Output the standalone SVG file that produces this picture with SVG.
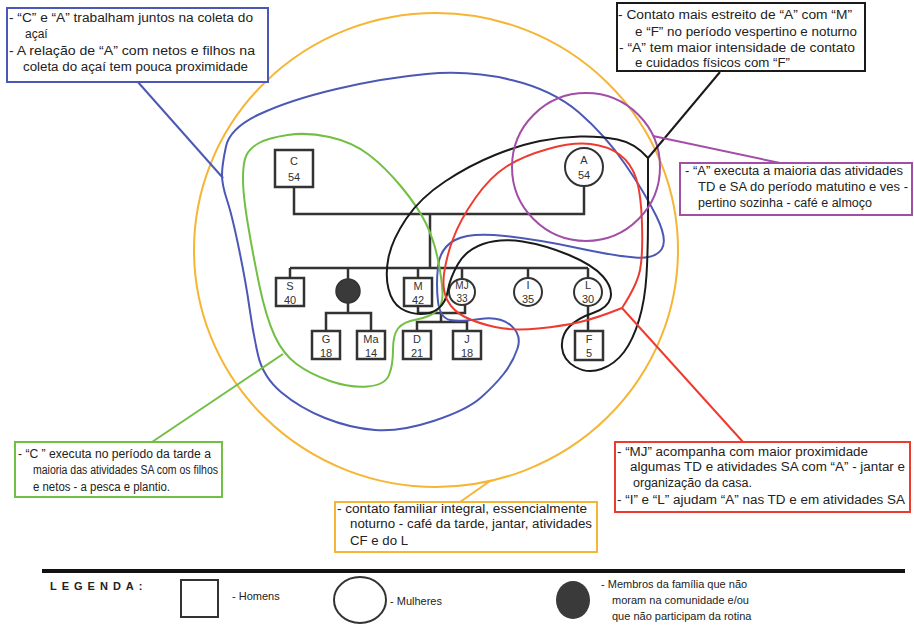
<svg xmlns="http://www.w3.org/2000/svg" width="914" height="628" viewBox="0 0 914 628">
<style>
  .t { font-family: "Liberation Sans", Arial, sans-serif; font-size: 12px; fill: #222; }
  .lbl { font-family: "Liberation Sans", Arial, sans-serif; font-size: 11px; fill: #333; text-anchor: middle; }
  .lg { font-family: "Liberation Sans", Arial, sans-serif; font-size: 11px; fill: #222; }
  .sq { fill: #fff; stroke: #333; stroke-width: 2.5; }
  .ci { fill: #fff; stroke: #333; stroke-width: 2; }
  .gl { fill: none; stroke: #333; stroke-width: 2.5; }
  .enc { fill: none; stroke-width: 2; }
  .blue { stroke: #4b58b5; }
  .green { stroke: #72bf44; }
  .red { stroke: #ee3b2f; }
  .mag { stroke: #a24ea6; }
  .blk { stroke: #1a1a1a; }
  .yel { stroke: #f6b534; }
  .box { fill: #fff; stroke-width: 2; }
</style>
<rect width="914" height="628" fill="#fff"/>

<g id="genogram-lines">
  <polyline class="gl" points="294,187 294,214 584,214 584,186"/>
  <line class="gl" x1="430" y1="214" x2="430" y2="268"/>
  <line class="gl" x1="290" y1="268" x2="588" y2="268"/>
  <line class="gl" x1="290" y1="268" x2="290" y2="278"/>
  <line class="gl" x1="348" y1="268" x2="348" y2="279"/>
  <line class="gl" x1="418" y1="268" x2="418" y2="278"/>
  <line class="gl" x1="462" y1="268" x2="462" y2="279"/>
  <line class="gl" x1="528" y1="268" x2="528" y2="278"/>
  <line class="gl" x1="588" y1="268" x2="588" y2="278"/>
  <polyline class="gl" points="348,303 348,313"/>
  <polyline class="gl" points="326,331 326,313 371,313 371,331"/>
  <polyline class="gl" points="418,306 418,313 465,313 465,305"/>
  <line class="gl" x1="441" y1="313" x2="441" y2="322"/>
  <polyline class="gl" points="417,331 417,322 467,322 467,331"/>
  <line class="gl" x1="588" y1="306" x2="588" y2="331"/>
</g>

<g id="node-C"><rect class="sq" x="275" y="150" width="38" height="37"/><text class="lbl" x="294" y="165">C</text><text class="lbl" x="294" y="181">54</text></g>
<g id="node-A"><circle class="ci" cx="584" cy="167" r="19"/><text class="lbl" x="584" y="164">A</text><text class="lbl" x="584" y="179">54</text></g>
<g id="node-S"><rect class="sq" x="276" y="278" width="28" height="28"/><text class="lbl" x="290" y="290">S</text><text class="lbl" x="290" y="304">40</text></g>
<g id="node-X"><circle cx="348" cy="291" r="12" fill="#3a3a3a" stroke="#333" stroke-width="1.5"/></g>
<g id="node-M"><rect class="sq" x="404" y="278" width="28" height="28"/><text class="lbl" x="418" y="290">M</text><text class="lbl" x="418" y="304">42</text></g>
<g id="node-MJ"><circle class="ci" cx="462" cy="292" r="13"/><text class="lbl" x="462" y="289" style="font-size:10px">MJ</text><text class="lbl" x="462" y="302" style="font-size:10px">33</text></g>
<g id="node-I"><circle class="ci" cx="528" cy="292" r="14"/><text class="lbl" x="528" y="289">I</text><text class="lbl" x="528" y="303">35</text></g>
<g id="node-L"><circle class="ci" cx="588" cy="292" r="14"/><text class="lbl" x="588" y="289">L</text><text class="lbl" x="588" y="303">30</text></g>
<g id="node-G"><rect class="sq" x="312" y="331" width="28" height="28"/><text class="lbl" x="326" y="343">G</text><text class="lbl" x="326" y="357">18</text></g>
<g id="node-Ma"><rect class="sq" x="357" y="331" width="28" height="28"/><text class="lbl" x="371" y="343">Ma</text><text class="lbl" x="371" y="357">14</text></g>
<g id="node-D"><rect class="sq" x="403" y="331" width="28" height="28"/><text class="lbl" x="417" y="343">D</text><text class="lbl" x="417" y="357">21</text></g>
<g id="node-J"><rect class="sq" x="453" y="331" width="28" height="28"/><text class="lbl" x="467" y="343">J</text><text class="lbl" x="467" y="357">18</text></g>
<g id="node-F"><rect class="sq" x="575" y="331" width="28" height="29"/><text class="lbl" x="589" y="343">F</text><text class="lbl" x="589" y="357">5</text></g>

<g id="enclosures">
  <ellipse id="enc-yellow" class="enc yel" cx="436" cy="250" rx="242" ry="237"/>
  <path id="enc-blue" class="enc blue" d="M 226,146.5 Q 230,128 260,114 Q 290,100 336.5,89 Q 383,78 426.5,74 Q 470,70 511.5,80 Q 553,90 579,112.5 Q 605,135 625,164 Q 645,193 656.5,216.5 Q 668,240 661.5,249.5 Q 655,259 635,257.5 Q 615,256 577.5,248 Q 540,240 505,236 Q 470,232 455,240 Q 440,248 438,266.5 Q 436,285 438,301.5 Q 440,318 450,320 Q 460,322 480,319 Q 500,316 511,325.5 Q 522,335 517.5,348.5 Q 513,362 504,373.5 Q 495,385 481,397.5 Q 467,410 433.5,421 Q 400,432 375,430 Q 350,428 325,418 Q 300,408 281.5,392.5 Q 263,377 258,355 Q 253,333 249.5,308 Q 246,283 239,249 Q 232,215 227,200 Q 222,185 222,175 Q 222,165 226,146.5 Z"/>
  <path id="enc-green" class="enc green" d="M 259,143 Q 268,138 287.5,135 Q 307,132 329.5,137 Q 352,142 368.5,154.5 Q 385,167 401.5,187 Q 418,207 426,223.5 Q 434,240 438,260 Q 442,280 442.5,292.5 Q 443,305 436.5,311 Q 430,317 416.5,319.5 Q 403,322 398,328.5 Q 393,335 393,350 Q 393,365 389,375 Q 385,385 367.5,386.5 Q 350,388 330,381 Q 310,374 296.5,364 Q 283,354 274.5,335.5 Q 266,317 259.5,286 Q 253,255 248,225 Q 243,195 243,178.5 Q 243,162 246.5,155 Q 250,148 259,143 Z"/>
  <path id="enc-black" class="enc blk" d="M 648,158 Q 635,143 617.5,139.5 Q 600,136 580,136.5 Q 560,137 540,141 Q 520,145 495,155 Q 470,165 445,181.5 Q 420,198 406,219 Q 392,240 388.5,257.5 Q 385,275 388.5,289 Q 392,303 401,308.5 Q 410,314 421,314 Q 432,314 439,308 Q 446,302 448,290 Q 450,278 458,264 Q 466,250 483,244 Q 500,238 522.5,241.5 Q 545,245 569,255 Q 593,265 603,276.5 Q 613,288 610.5,298 Q 608,308 593,313 Q 578,318 569.5,326.5 Q 561,335 562,347.5 Q 563,360 575.5,367 Q 588,374 601.5,369 Q 615,364 624,352 Q 633,340 639,320 Q 645,300 646.5,275 Q 648,250 648,220 Q 648,190 648,158 Z"/>
  <path id="enc-red" class="enc red" d="M 622,308 Q 597,318 580,322 Q 563,326 538,328.5 Q 513,331 495,327 Q 477,323 465,317 Q 453,311 447.5,300.5 Q 442,290 444,274 Q 446,258 453,239 Q 460,220 475,198.5 Q 490,177 506.5,166.5 Q 523,156 548,149 Q 573,142 590.5,144 Q 608,146 619.5,154.5 Q 631,163 636,178 Q 641,193 642,224 Q 643,255 640,270 Q 637,285 622,308 Z"/>
  <circle id="enc-magenta" class="enc mag" cx="586" cy="167" r="74"/>
</g>

<g id="connectors" fill="none" stroke-width="2">
  <line class="blue" x1="137" y1="81" x2="223" y2="178"/>
  <line class="blk" x1="720" y1="72" x2="648" y2="158"/>
  <line class="mag" x1="653" y1="136" x2="780" y2="163"/>
  <line class="green" x1="152" y1="442" x2="283" y2="354"/>
  <line class="red" x1="622" y1="308" x2="743" y2="442"/>
  <line class="yel" x1="460" y1="502" x2="490" y2="481"/>
</g>

<g id="note-blue">
  <rect class="box blue" x="7" y="8" width="261" height="74"/>
  <text class="t" x="9" y="22" textLength="244" lengthAdjust="spacingAndGlyphs">- “C” e “A” trabalham juntos na coleta do</text>
  <text class="t" x="25" y="38">açaí</text>
  <text class="t" x="9" y="55" textLength="246" lengthAdjust="spacingAndGlyphs">- A relação de “A” com netos e filhos  na</text>
  <text class="t" x="23" y="71" textLength="225" lengthAdjust="spacingAndGlyphs">coleta do açaí tem pouca proximidade</text>
</g>
<g id="note-black">
  <rect class="box blk" x="617" y="3" width="248" height="68" stroke-width="2.5"/>
  <text class="t" x="618" y="19" textLength="234" lengthAdjust="spacingAndGlyphs">- Contato mais estreito de “A” com “M”</text>
  <text class="t" x="635" y="36" textLength="222" lengthAdjust="spacingAndGlyphs">e “F” no período vespertino e noturno</text>
  <text class="t" x="619" y="52" textLength="236" lengthAdjust="spacingAndGlyphs">-  “A” tem maior intensidade de contato</text>
  <text class="t" x="635" y="67" textLength="155" lengthAdjust="spacingAndGlyphs">e cuidados físicos com “F”</text>
</g>
<g id="note-magenta">
  <rect class="box mag" x="680" y="163" width="232" height="52"/>
  <text class="t" x="685" y="175" textLength="218" lengthAdjust="spacingAndGlyphs">- “A” executa a maioria das atividades</text>
  <text class="t" x="698" y="191" textLength="210" lengthAdjust="spacingAndGlyphs">TD e SA do período matutino e ves -</text>
  <text class="t" x="698" y="207" textLength="174" lengthAdjust="spacingAndGlyphs">pertino sozinha - café e almoço</text>
</g>
<g id="note-green">
  <rect class="box green" x="15" y="442" width="207" height="55"/>
  <text class="t" x="18" y="458" textLength="193" lengthAdjust="spacingAndGlyphs">- “C ” executa no período da tarde a</text>
  <text class="t" x="33" y="474" textLength="185" lengthAdjust="spacingAndGlyphs">maioria das atividades SA com os filhos</text>
  <text class="t" x="33" y="491" textLength="137" lengthAdjust="spacingAndGlyphs">e netos - a pesca e plantio.</text>
</g>
<g id="note-red">
  <rect class="box red" x="615" y="442" width="295" height="70"/>
  <text class="t" x="617" y="456" textLength="251" lengthAdjust="spacingAndGlyphs">- “MJ” acompanha com maior proximidade</text>
  <text class="t" x="630" y="471" textLength="275" lengthAdjust="spacingAndGlyphs">algumas TD e atividades SA com “A” - jantar e</text>
  <text class="t" x="633" y="487" textLength="119" lengthAdjust="spacingAndGlyphs">organização da casa.</text>
  <text class="t" x="617" y="504" textLength="288" lengthAdjust="spacingAndGlyphs">- “I” e “L” ajudam “A” nas TD e em atividades SA</text>
</g>
<g id="note-yellow">
  <rect class="box yel" x="335" y="502" width="262" height="50"/>
  <text class="t" x="337" y="513" textLength="250" lengthAdjust="spacingAndGlyphs">- contato familiar integral, essencialmente</text>
  <text class="t" x="350" y="528" textLength="242" lengthAdjust="spacingAndGlyphs">noturno - café da tarde, jantar, atividades</text>
  <text class="t" x="350" y="545" textLength="58" lengthAdjust="spacingAndGlyphs">CF e do L</text>
</g>

<g id="legend">
  <line x1="42" y1="571" x2="905" y2="571" stroke="#111" stroke-width="4"/>
  <text class="lg" x="50" y="590" style="font-weight:bold;letter-spacing:5px">LEGENDA:</text>
  <rect x="181" y="580" width="37" height="37" fill="#fff" stroke="#333" stroke-width="2"/>
  <text class="lg" x="232" y="600">- Homens</text>
  <ellipse cx="360" cy="600" rx="26" ry="23" fill="#fff" stroke="#333" stroke-width="2"/>
  <text class="lg" x="390" y="605">- Mulheres</text>
  <ellipse cx="573" cy="600" rx="17" ry="19" fill="#3a3a3a"/>
  <text class="lg" x="601" y="588">- Membros da família que não</text>
  <text class="lg" x="612" y="604">moram na comunidade e/ou</text>
  <text class="lg" x="612" y="620">que não participam da rotina</text>
</g>
</svg>
